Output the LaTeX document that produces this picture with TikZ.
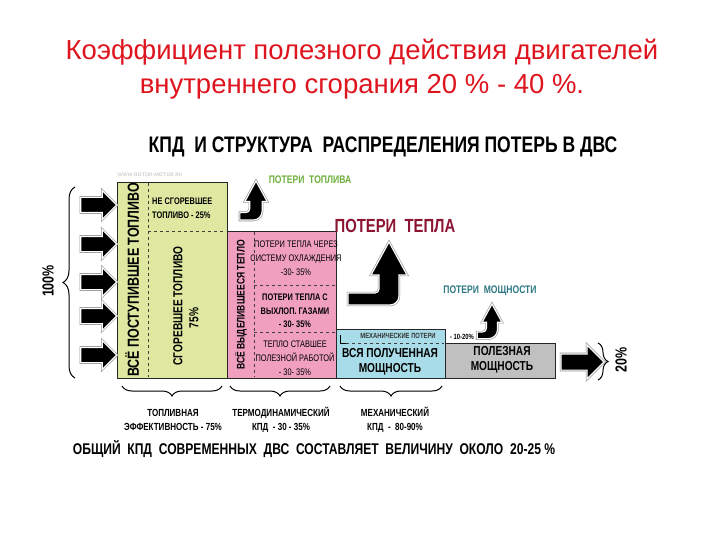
\documentclass[tikz,border=0pt]{standalone}
\usepackage{fontspec}
\setmainfont{Liberation Sans}
\newfontfamily\narrowfont[FakeStretch=0.78]{Liberation Sans}
\usetikzlibrary{shapes.arrows,decorations.pathreplacing,positioning}

\definecolor{titlered}{RGB}{222,20,30}
\definecolor{fuelgreen}{RGB}{222,232,160}
\definecolor{heatpink}{RGB}{240,160,190}
\definecolor{powerblue}{RGB}{168,220,232}
\definecolor{usefulgrey}{RGB}{192,192,192}
\definecolor{lossgreen}{RGB}{110,175,60}
\definecolor{lossred}{RGB}{140,20,50}
\definecolor{lossteal}{RGB}{45,120,130}

\tikzset{
  hookarrow/.pic={
    \path[arrowline] (0,0) -- (18,33) -- (10,33) [rounded corners=9pt] -- (10,63)
      [sharp corners] -- (#1,63) -- (#1,51) [rounded corners=4pt] -- (-10,51)
      [sharp corners] -- (-10,33) -- (-18,33) -- cycle;
  }
}

\begin{document}
\begin{tikzpicture}[x=1pt,y=-1pt,
  box/.style={draw=black!85,line width=0.8pt,inner sep=0pt},
  divider/.style={dashed,black!75,line width=0.6pt},
  arrowline/.style={preaction={draw=gray!85,line width=2.4pt},draw=white,line width=1.2pt,fill=black},
  blockarrow/.style={single arrow,single arrow head extend=7pt,inner sep=0pt,
    text width=0pt,text height=7pt,text depth=7pt,arrowline},
  brace/.style={decorate,decoration={brace,amplitude=#1},line width=1pt},
  brace/.default=10pt,
  titletxt/.style={titlered,font=\fontsize{27.5}{30}\selectfont,inner sep=0pt,anchor=base},
  tinytxt/.style={font=\narrowfont\bfseries\fontsize{7.5}{8}\selectfont,inner sep=0pt},
  smalltxt/.style={font=\narrowfont\fontsize{9.5}{14}\selectfont,inner sep=0pt,align=center},
  smallbold/.style={font=\narrowfont\bfseries\fontsize{9.5}{13.5}\selectfont,inner sep=0pt,align=center},
  midtxt/.style={font=\narrowfont\bfseries\fontsize{13}{15}\selectfont,inner sep=0pt,align=center},
  bigtxt/.style={font=\narrowfont\bfseries\fontsize{16}{18}\selectfont,inner sep=0pt}]
\useasboundingbox (0,0) rectangle (720,540);

\node[titletxt] (title1) at (362,60) {Коэффициент полезного действия двигателей};
\node[titletxt] (title2) at (362,93.5) {внутреннего сгорания 20 \% - 40 \%.};

\node[font=\narrowfont\bfseries\fontsize{22.5}{22}\selectfont,inner sep=0pt] (heading) at (383,147)
  {КПД \ И СТРУКТУРА \ РАСПРЕДЕЛЕНИЯ ПОТЕРЬ В ДВС};
\node[gray!60,font=\sffamily\fontsize{5}{5}\selectfont,inner sep=0pt] (site) at (150,175) {WWW.ROTOR-MOTOR.RU};

% boxes
\node[box,fill=fuelgreen,minimum width=110,minimum height=196] (fuel) at (172,280) {};
\node[box,fill=heatpink,minimum width=109,minimum height=147] (heat) at (281.5,304.5) {};
\node[box,fill=powerblue,minimum width=109,minimum height=49] (power) at (390.5,353.5) {};
\node[box,fill=usefulgrey,minimum width=110,minimum height=35] (useful) at (500,360.5) {};

\draw[divider] (148,183) -- (148,377);
\draw[divider] (148,231) -- (226,231);
\draw[divider] (254,232) -- (254,377);
\draw[divider] (254,285) -- (335,285);
\draw[divider] (254,332) -- (335,332);
\draw[line width=0.5pt] (340,335) -- (340,343) -- (346,343);
\draw[divider] (346,343) -- (444,343);

\node[bigtxt,rotate=90] (allfuel) at (132,280) {ВСЁ ПОСТУПИВШЕЕ ТОПЛИВО};
\node[smallbold,anchor=west,align=left] (unburnt) at (152,208) {НЕ СГОРЕВШЕЕ\\ТОПЛИВО - 25\%};
\node[midtxt,rotate=90] (burnt) at (178,306) {СГОРЕВШЕЕ ТОПЛИВО};
\node[midtxt,rotate=90] (burntpct) at (194,318) {75\%};

\node[midtxt,font=\narrowfont\bfseries\fontsize{11}{11}\selectfont,rotate=90] (allheat) at (241,305) {ВСЁ ВЫДЕЛИВШЕЕСЯ ТЕПЛО};
\node[smalltxt] (cooling) at (296,258) {ПОТЕРИ ТЕПЛА ЧЕРЕЗ\\СИСТЕМУ ОХЛАЖДЕНИЯ\\-30- 35\%};
\node[smallbold] (exhaust) at (295,311) {ПОТЕРИ ТЕПЛА С\\ВЫХЛОП. ГАЗАМИ\\- 30- 35\%};
\node[smalltxt] (work) at (295,358) {ТЕПЛО СТАВШЕЕ\\ПОЛЕЗНОЙ РАБОТОЙ\\- 30- 35\%};

\node[tinytxt,black!80] (mechloss) at (398,336) {МЕХАНИЧЕСКИЕ ПОТЕРИ};
\node[tinytxt] (mechpct) at (462,337) {- 10-20\%};
\node[midtxt] (allpower) at (390,362) {ВСЯ ПОЛУЧЕННАЯ\\МОЩНОСТЬ};
\node[midtxt] (usefultxt) at (502,360) {ПОЛЕЗНАЯ\\МОЩНОСТЬ};

% input and output arrows
\foreach \y [count=\i] in {205,244,282,316,355}
  \node[blockarrow,minimum height=36,minimum width=28] (in\i) at (95,\y) {};
\node[blockarrow,single arrow head extend=9pt,text height=7.5pt,text depth=7.5pt,
  minimum height=43,minimum width=33] (out) at (578.5,362) {};

\draw[brace=12pt] (75,378) -- (75,187);
\node[bigtxt,rotate=90] (total) at (48,281) {100\%};
\draw[brace=10pt] (598,343) -- (598,380);
\node[bigtxt,rotate=90] (outpct) at (621,360) {20\%};

% losses
\node[lossgreen,font=\narrowfont\bfseries\fontsize{11}{11}\selectfont,inner sep=0pt] (fuelloss) at (310,180) {ПОТЕРИ \ ТОПЛИВА};
\pic[scale=0.62] at (256,181) {hookarrow=-26};
\node[lossred,font=\narrowfont\bfseries\fontsize{19}{19}\selectfont,inner sep=0pt] (heatloss) at (395,226) {ПОТЕРИ \ ТЕПЛА};
\pic at (389,242) {hookarrow=-41};
\node[lossteal,font=\narrowfont\bfseries\fontsize{11}{11}\selectfont,inner sep=0pt] (powerloss) at (490,291) {ПОТЕРИ \ МОЩНОСТИ};
\pic[scale=0.55] at (492,304) {hookarrow=-27};

% efficiencies
\draw[brace=10pt,decoration={mirror}] (122,386) -- (222,386);
\draw[brace=10pt,decoration={mirror}] (230,386) -- (330,386);
\draw[brace=10pt,decoration={mirror}] (340,386) -- (442,386);
\node[smallbold,font=\narrowfont\bfseries\fontsize{10.3}{13.5}\selectfont] (fueleff) at (173,420) {ТОПЛИВНАЯ\\ЭФФЕКТИВНОСТЬ - 75\%};
\node[smallbold,font=\narrowfont\bfseries\fontsize{10.3}{13.5}\selectfont] (thermoeff) at (281,420) {ТЕРМОДИНАМИЧЕСКИЙ\\КПД \ - 30 - 35\%};
\node[smallbold,font=\narrowfont\bfseries\fontsize{10.3}{13.5}\selectfont] (mecheff) at (395,420) {МЕХАНИЧЕСКИЙ\\КПД \ - \ 80-90\%};

\node[font=\narrowfont\bfseries\fontsize{15.5}{16}\selectfont,inner sep=0pt] (overall) at (314,449)
  {ОБЩИЙ \ КПД \ СОВРЕМЕННЫХ \ ДВС \ СОСТАВЛЯЕТ \ ВЕЛИЧИНУ \ ОКОЛО \ 20-25 \%};

\end{tikzpicture}
\end{document}
